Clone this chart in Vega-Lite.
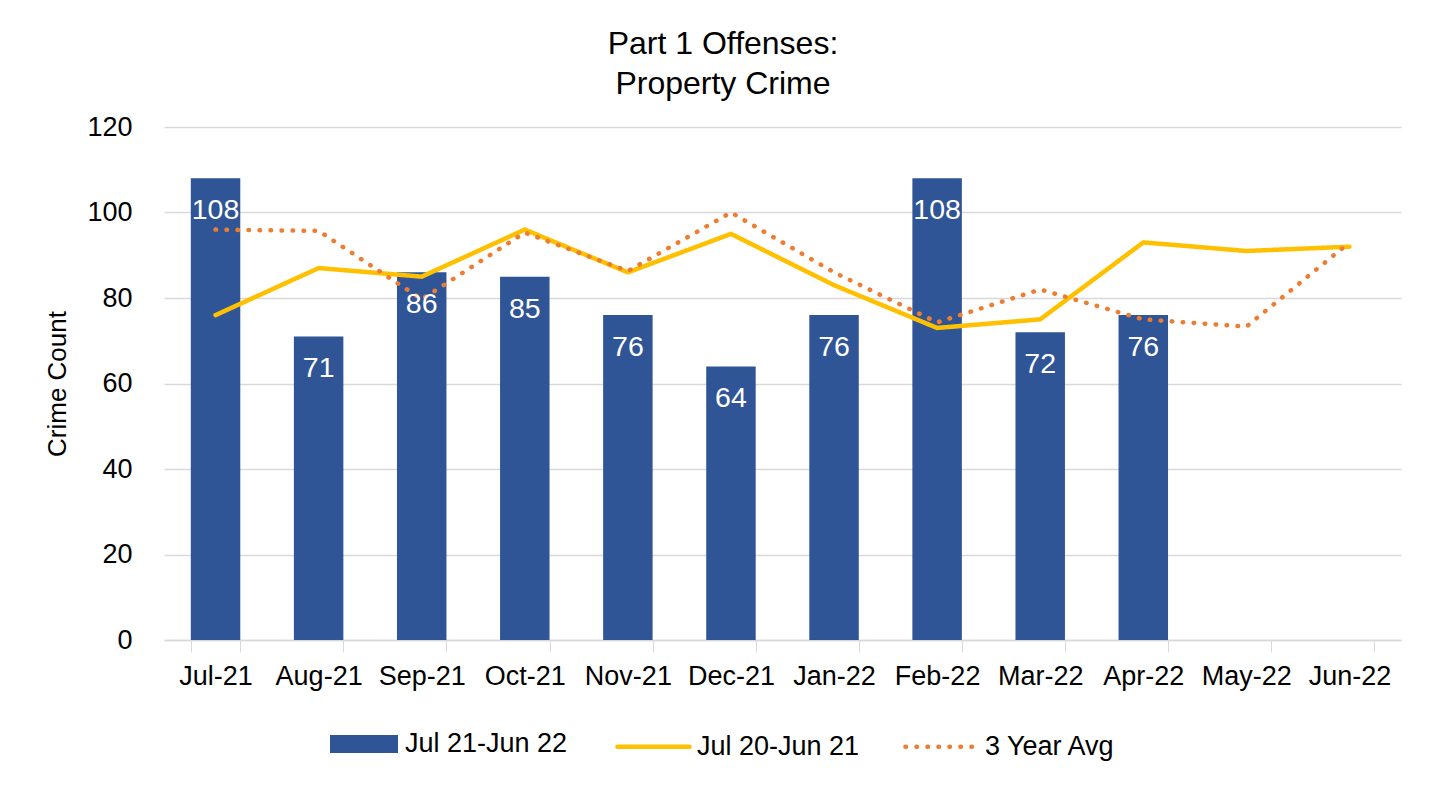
{
  "$schema": "https://vega.github.io/schema/vega-lite/v6.json",
  "width": 1237,
  "height": 513,
  "autosize": {"type": "none"},
  "padding": {"left": 164, "top": 127, "right": 34, "bottom": 145},
  "background": "white",
  "config": {
    "font": "Liberation Sans",
    "view": {"stroke": null},
    "axis": {"labelFont": "Liberation Sans", "titleFont": "Liberation Sans"}
  },
  "title": {
    "text": ["Part 1 Offenses:", "Property Crime"],
    "fontSize": 32,
    "fontWeight": "normal",
    "color": "#000000",
    "lineHeight": 40,
    "offset": 12,
    "frame": "bounds",
    "anchor": "middle"
  },
  "datasets": {
    "bars": [
      {"month": "Jul-21", "count": 108},
      {"month": "Aug-21", "count": 71},
      {"month": "Sep-21", "count": 86},
      {"month": "Oct-21", "count": 85},
      {"month": "Nov-21", "count": 76},
      {"month": "Dec-21", "count": 64},
      {"month": "Jan-22", "count": 76},
      {"month": "Feb-22", "count": 108},
      {"month": "Mar-22", "count": 72},
      {"month": "Apr-22", "count": 76}
    ],
    "lines": [
      {"month": "Jul-21", "series": "Jul 20-Jun 21", "value": 76},
      {"month": "Aug-21", "series": "Jul 20-Jun 21", "value": 87},
      {"month": "Sep-21", "series": "Jul 20-Jun 21", "value": 85},
      {"month": "Oct-21", "series": "Jul 20-Jun 21", "value": 96},
      {"month": "Nov-21", "series": "Jul 20-Jun 21", "value": 86},
      {"month": "Dec-21", "series": "Jul 20-Jun 21", "value": 95},
      {"month": "Jan-22", "series": "Jul 20-Jun 21", "value": 83},
      {"month": "Feb-22", "series": "Jul 20-Jun 21", "value": 73},
      {"month": "Mar-22", "series": "Jul 20-Jun 21", "value": 75},
      {"month": "Apr-22", "series": "Jul 20-Jun 21", "value": 93},
      {"month": "May-22", "series": "Jul 20-Jun 21", "value": 91},
      {"month": "Jun-22", "series": "Jul 20-Jun 21", "value": 92},
      {"month": "Jul-21", "series": "3 Year Avg", "value": 96},
      {"month": "Aug-21", "series": "3 Year Avg", "value": 95.7},
      {"month": "Sep-21", "series": "3 Year Avg", "value": 79.7},
      {"month": "Oct-21", "series": "3 Year Avg", "value": 95.3},
      {"month": "Nov-21", "series": "3 Year Avg", "value": 86.3},
      {"month": "Dec-21", "series": "3 Year Avg", "value": 100},
      {"month": "Jan-22", "series": "3 Year Avg", "value": 86},
      {"month": "Feb-22", "series": "3 Year Avg", "value": 74.3},
      {"month": "Mar-22", "series": "3 Year Avg", "value": 82},
      {"month": "Apr-22", "series": "3 Year Avg", "value": 75},
      {"month": "May-22", "series": "3 Year Avg", "value": 73.3},
      {"month": "Jun-22", "series": "3 Year Avg", "value": 93}
    ]
  },
  "encoding": {
    "x": {
      "field": "month",
      "type": "nominal",
      "sort": null,
      "scale": {"domain": ["Jul-21","Aug-21","Sep-21","Oct-21","Nov-21","Dec-21","Jan-22","Feb-22","Mar-22","Apr-22","May-22","Jun-22"], "paddingInner": 0.52, "paddingOuter": 0.26},
      "axis": {
        "title": null,
        "labelAngle": 0,
        "labelFontSize": 27,
        "labelColor": "#000000",
        "labelPadding": 11,
        "domainColor": "#D9D9D9",
        "domainWidth": 1.5,
        "tickColor": "#D9D9D9",
        "tickSize": 12,
        "tickBand": "extent",
        "grid": false
      }
    }
  },
  "layer": [
    {
      "data": {"name": "bars"},
      "mark": {"type": "bar"},
      "encoding": {
        "y": {
          "field": "count",
          "type": "quantitative",
          "scale": {"domain": [0, 120]},
          "axis": {
            "title": "Crime Count",
            "titleFontSize": 26,
            "titleFontWeight": "normal",
            "titleColor": "#000000",
            "titlePadding": 16,
            "values": [0, 20, 40, 60, 80, 100, 120],
            "labelFontSize": 27,
            "labelColor": "#000000",
            "labelPadding": 32,
            "ticks": false,
            "domain": false,
            "gridColor": "#D9D9D9",
            "gridWidth": 1.5
          }
        },
        "fill": {
          "datum": "Jul 21-Jun 22",
          "type": "nominal",
          "scale": {"range": ["#2F5597"]},
          "legend": {
            "title": null,
            "orient": "none",
            "legendX": 166,
            "legendY": 583,
            "symbolType": "M-1,-0.265L1,-0.265L1,0.265L-1,0.265Z",
            "symbolSize": 4624,
            "symbolStrokeWidth": 0,
            "labelFontSize": 27,
            "labelColor": "#000000",
            "labelOffset": 7,
            "labelLimit": 400
          }
        }
      }
    },
    {
      "data": {"name": "lines"},
      "mark": {"type": "line", "strokeCap": "round", "strokeJoin": "round"},
      "encoding": {
        "y": {"field": "value", "type": "quantitative"},
        "stroke": {
          "field": "series",
          "type": "nominal",
          "scale": {"domain": ["Jul 20-Jun 21", "3 Year Avg"], "range": ["#FFC000", "#ED7D31"]},
          "legend": {
            "title": null,
            "orient": "none",
            "direction": "horizontal",
            "legendX": 451,
            "legendY": 581,
            "symbolType": "stroke",
            "symbolSize": 5200,
            "symbolStrokeWidth": 4.5,
            "labelFontSize": 27,
            "labelColor": "#000000",
            "labelOffset": 5,
            "labelLimit": 400,
            "columnPadding": 36,
            "encode": {"symbols": {"update": {"strokeCap": {"value": "round"}}}}
          }
        },
        "strokeDash": {
          "field": "series",
          "type": "nominal",
          "scale": {"domain": ["Jul 20-Jun 21", "3 Year Avg"], "range": [[1, 0], [0.5, 10.5]]},
          "legend": null
        },
        "strokeWidth": {"value": 4.5},
        "order": {"field": "series", "sort": "descending"}
      }
    },
    {
      "data": {"name": "bars"},
      "mark": {"type": "text", "color": "white", "fontSize": 28.5, "baseline": "middle", "dy": 32},
      "encoding": {
        "y": {"field": "count", "type": "quantitative"},
        "text": {"field": "count", "type": "quantitative"}
      }
    }
  ]
}
